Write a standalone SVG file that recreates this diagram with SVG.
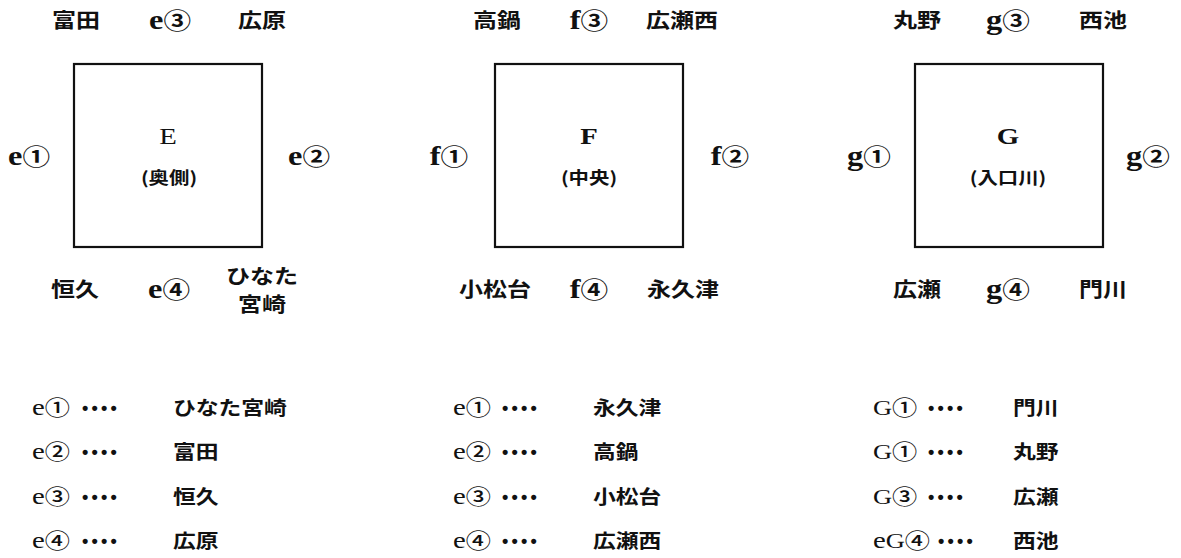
<svg xmlns="http://www.w3.org/2000/svg" width="1181" height="558" viewBox="0 0 1181 558">
<style>
text{font-family:"Liberation Serif","Noto Sans CJK JP",serif;fill:#111;}
.s{transform-box:fill-box;transform-origin:center;transform:scaleX(1.2);text-anchor:middle;}
.l{transform-box:fill-box;transform-origin:left center;transform:scaleX(1.2);text-anchor:start;}
.j{font-family:"Noto Sans CJK JP",sans-serif;font-size:20px;font-weight:700;}
.jm{font-family:"Noto Sans CJK JP",sans-serif;font-size:19px;font-weight:600;}
.sub{font-family:"Noto Sans CJK JP",sans-serif;font-size:17px;font-weight:700;}
.lat{font-size:27px;font-weight:700;}
.latb{font-size:24px;}
.cn{font-family:"Noto Sans CJK JP",sans-serif;font-size:23px;font-weight:700;}
.cnb{font-family:"Noto Sans CJK JP",sans-serif;font-size:21px;font-weight:500;}
.big{font-size:24px;}
.bigl{font-size:22px;}
.dots{font-family:"Liberation Sans",sans-serif;font-size:18px;font-weight:700;letter-spacing:3.2px;}
.box{fill:none;stroke:#111;stroke-width:2.2;}
</style>
<g id="connectors"></g>
<g id="nodeE">
<rect class="box" x="74" y="64" width="188" height="183"/>
<text class="s big" x="168" y="144">E</text>
<text class="s sub" x="169" y="184">(奥側)</text>
</g>
<g id="labelsE">
<text class="s j" x="76" y="28">富田</text>
<text class="s" x="170" y="29"><tspan class="lat">e</tspan><tspan class="cn">③</tspan></text>
<text class="s j" x="262" y="28">広原</text>
<text class="s" x="29" y="165"><tspan class="lat">e</tspan><tspan class="cn">①</tspan></text>
<text class="s" x="309" y="165"><tspan class="lat">e</tspan><tspan class="cn">②</tspan></text>
<text class="s j" x="75" y="297">恒久</text>
<text class="s" x="169" y="298"><tspan class="lat">e</tspan><tspan class="cn">④</tspan></text>
<text class="s j" x="262" y="284">ひなた</text>
<text class="s j" x="262" y="312">宮崎</text>
</g>
<g id="nodeF">
<rect class="box" x="495" y="64" width="188" height="183"/>
<text class="s big" x="589" y="144" font-weight="700">F</text>
<text class="s sub" x="589" y="184">(中央)</text>
</g>
<g id="labelsF">
<text class="s j" x="497" y="28">高鍋</text>
<text class="s" x="589" y="29"><tspan class="lat">f</tspan><tspan class="cn">③</tspan></text>
<text class="s j" x="682" y="28">広瀬西</text>
<text class="s" x="449" y="165"><tspan class="lat">f</tspan><tspan class="cn">①</tspan></text>
<text class="s" x="730" y="165"><tspan class="lat">f</tspan><tspan class="cn">②</tspan></text>
<text class="s j" x="495" y="297">小松台</text>
<text class="s" x="589" y="298"><tspan class="lat">f</tspan><tspan class="cn">④</tspan></text>
<text class="s j" x="683" y="297">永久津</text>
</g>
<g id="nodeG">
<rect class="box" x="915" y="64" width="188" height="183"/>
<text class="s big" x="1008" y="144" font-weight="700">G</text>
<text class="s sub" x="1008" y="184">(入口川)</text>
</g>
<g id="labelsG">
<text class="s j" x="917" y="28">丸野</text>
<text class="s" x="1008" y="29"><tspan class="lat">g</tspan><tspan class="cn">③</tspan></text>
<text class="s j" x="1103" y="28">西池</text>
<text class="s" x="869" y="165"><tspan class="lat">g</tspan><tspan class="cn">①</tspan></text>
<text class="s" x="1148" y="165"><tspan class="lat">g</tspan><tspan class="cn">②</tspan></text>
<text class="s j" x="917" y="297">広瀬</text>
<text class="s" x="1008" y="298"><tspan class="lat">g</tspan><tspan class="cn">④</tspan></text>
<text class="s j" x="1103" y="297">門川</text>
</g>
<g id="listE">
<text class="l" x="32" y="415"><tspan class="latb">e</tspan><tspan class="cnb">①</tspan></text>
<text class="dots" x="82" y="414">••••</text>
<text class="l jm" x="173" y="415">ひなた宮崎</text>
<text class="l" x="32" y="459"><tspan class="latb">e</tspan><tspan class="cnb">②</tspan></text>
<text class="dots" x="82" y="458">••••</text>
<text class="l jm" x="173" y="459">富田</text>
<text class="l" x="32" y="504"><tspan class="latb">e</tspan><tspan class="cnb">③</tspan></text>
<text class="dots" x="82" y="503">••••</text>
<text class="l jm" x="173" y="504">恒久</text>
<text class="l" x="32" y="548"><tspan class="latb">e</tspan><tspan class="cnb">④</tspan></text>
<text class="dots" x="82" y="547">••••</text>
<text class="l jm" x="173" y="548">広原</text>
</g>
<g id="listF">
<text class="l" x="453" y="415"><tspan class="latb">e</tspan><tspan class="cnb">①</tspan></text>
<text class="dots" x="502" y="414">••••</text>
<text class="l jm" x="593" y="415">永久津</text>
<text class="l" x="453" y="459"><tspan class="latb">e</tspan><tspan class="cnb">②</tspan></text>
<text class="dots" x="502" y="458">••••</text>
<text class="l jm" x="593" y="459">高鍋</text>
<text class="l" x="453" y="504"><tspan class="latb">e</tspan><tspan class="cnb">③</tspan></text>
<text class="dots" x="502" y="503">••••</text>
<text class="l jm" x="593" y="504">小松台</text>
<text class="l" x="453" y="548"><tspan class="latb">e</tspan><tspan class="cnb">④</tspan></text>
<text class="dots" x="502" y="547">••••</text>
<text class="l jm" x="593" y="548">広瀬西</text>
</g>
<g id="listG">
<text class="l" x="873" y="415"><tspan class="bigl">G</tspan><tspan class="cnb">①</tspan></text>
<text class="dots" x="928" y="414">••••</text>
<text class="l jm" x="1013" y="415">門川</text>
<text class="l" x="873" y="459"><tspan class="bigl">G</tspan><tspan class="cnb">①</tspan></text>
<text class="dots" x="928" y="458">••••</text>
<text class="l jm" x="1013" y="459">丸野</text>
<text class="l" x="873" y="504"><tspan class="bigl">G</tspan><tspan class="cnb">③</tspan></text>
<text class="dots" x="928" y="503">••••</text>
<text class="l jm" x="1013" y="504">広瀬</text>
<text class="l" x="873" y="548"><tspan class="latb">e</tspan><tspan class="bigl">G</tspan><tspan class="cnb">④</tspan></text>
<text class="dots" x="938" y="547">••••</text>
<text class="l jm" x="1013" y="548">西池</text>
</g>
</svg>
